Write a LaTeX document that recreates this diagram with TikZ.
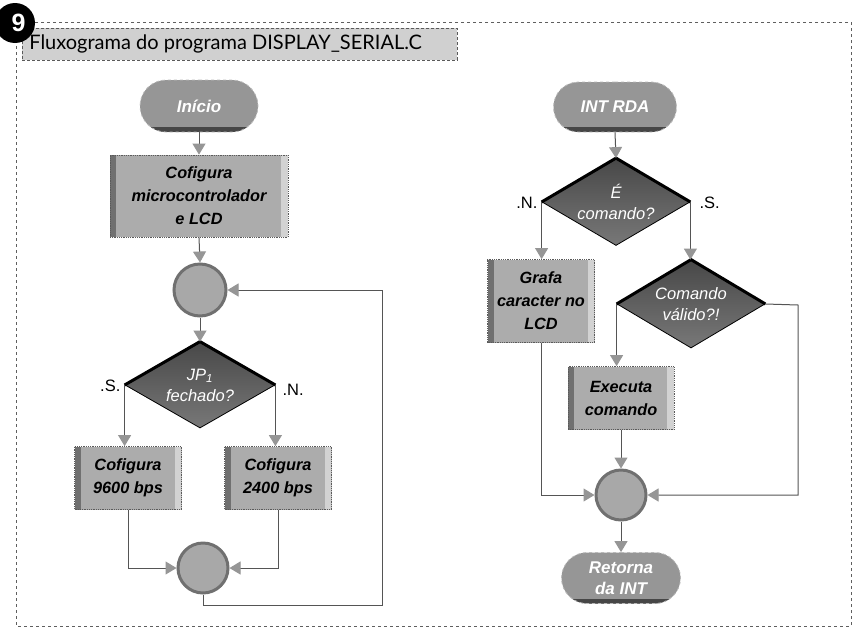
\documentclass[tikz,border=0pt]{standalone}
\usepackage{fontspec}
\setmainfont{Liberation Sans}
\newfontfamily\titlefont{Lato}
\usetikzlibrary{shapes.geometric,shapes.misc,arrows.meta,calc}
\definecolor{framecol}{RGB}{95,95,95}
\definecolor{titlefill}{RGB}{208,208,208}
\definecolor{boxfill}{RGB}{172,172,172}
\definecolor{boxdark}{RGB}{112,112,112}
\definecolor{boxlight}{RGB}{210,210,210}
\definecolor{boxedge}{RGB}{90,90,90}
\definecolor{termfill}{RGB}{150,150,150}
\definecolor{termdark}{RGB}{70,70,70}
\definecolor{termedge}{RGB}{185,185,185}
\definecolor{diatop}{RGB}{72,72,72}
\definecolor{diabot}{RGB}{120,120,120}
\definecolor{circfill}{RGB}{168,168,168}
\definecolor{circedge}{RGB}{112,112,112}
\definecolor{tipcol}{RGB}{150,150,150}
\definecolor{linecol}{RGB}{85,85,85}
\tikzset{
  conn/.style={draw=linecol, line width=1pt},
  arr/.style={conn, -{Triangle[width=13pt,length=11pt,color=tipcol,fill=tipcol]}},
  procbox/.style={rectangle, fill=boxfill, draw=boxedge, densely dotted, line width=0.8pt,
    font=\bfseries\itshape\fontsize{16.3}{23}\selectfont, align=center, inner sep=0pt,
    path picture={
      \fill[boxdark] (path picture bounding box.south west) rectangle ([xshift=6pt]path picture bounding box.north west);
      \fill[boxlight] ([xshift=-7pt]path picture bounding box.south east) rectangle (path picture bounding box.north east);
    }},
  termbox/.style={rounded rectangle, fill=termfill, draw=termedge, dashed, line width=0.8pt,
    text=white, font=\bfseries\itshape\fontsize{17}{21}\selectfont, align=center, inner sep=0pt,
    path picture={
      \fill[termdark] ([yshift=5pt]path picture bounding box.south west) rectangle (path picture bounding box.south east);
    }},
  decbox/.style={diamond, top color=diatop, bottom color=diabot, draw=black, line width=0.8pt,
    text=white, font=\itshape\fontsize{16.5}{21}\selectfont, align=center, inner sep=0pt,
    shape aspect=1.72, minimum width=148, minimum height=87},
  decedge/.style={draw=black, line width=3pt, line join=miter},
  joint/.style={circle, fill=circfill, draw=circedge, line width=3pt, minimum size=50, inner sep=0pt},
  branchlbl/.style={font=\fontsize{16.5}{19}\selectfont, text=black, inner sep=1pt},
  titlebox/.style={rectangle, fill=titlefill, draw=boxedge, densely dashed, line width=0.7pt,
    font=\titlefont\fontsize{20}{24}\selectfont, inner xsep=7pt, inner ysep=0pt,
    minimum height=32, anchor=north west},
}
\begin{document}
\begin{tikzpicture}[x=1pt,y=-1pt]
\useasboundingbox (0,0) rectangle (861,640);
\fill[white] (0,0) rectangle (861,640);
% frame
\draw[framecol, dashed, line width=1pt] (16,22) rectangle (851,626);
% title
\node[titlebox] (title) at (22,28) {\makebox[421pt][l]{Fluxograma do programa DISPLAY\_SERIAL.C}};
\node[circle, fill=black, minimum size=40, inner sep=0pt, text=white,
      font=\bfseries\fontsize{25}{25}\selectfont] (num) at (15,23) {\hspace{7pt}9};

% left flowchart
\node[termbox, minimum width=118, minimum height=52] (inicio) at (199,106) {Início};
\node[procbox, minimum width=178, minimum height=82] (cfg) at (199,196) {Cofigura\\microcontrolador\\e LCD};
\node[joint, minimum size=52] (c1) at (200,290) {};
\node[decbox, minimum width=150, minimum height=86] (jp) at (200,385) {JP\textsubscript{1}\\fechado?};
\draw[decedge] (jp.west) -- (jp.north) -- (jp.east);
\node[procbox, minimum width=107, minimum height=63] (b96) at (128,478) {Cofigura\\9600 bps};
\node[procbox, minimum width=107, minimum height=63] (b24) at (278,478) {Cofigura\\2400 bps};
\node[joint] (c2) at (203,568) {};
\node[branchlbl, anchor=south east] (ls) at ([xshift=-3pt,yshift=-8pt]jp.west) {.S.};
\node[branchlbl, anchor=north west] (ln) at ([xshift=6pt,yshift=2pt]jp.east) {.N.};
\coordinate (lp1) at (382,605);

\draw[arr] (inicio.south) -- (cfg.north);
\draw[arr] (cfg.south) -- (c1.north);
\draw[arr] (c1.south) -- (jp.north);
\draw[arr] (jp.west) -- (jp.west |- b96.north);
\draw[arr] (jp.east) -- (jp.east |- b24.north);
\draw[arr] (b96.south) |- (c2.west);
\draw[arr] (b24.south) |- (c2.east);
\draw[arr] (c2.south) |- (lp1) |- (c1.east);

% right flowchart
\node[termbox, minimum width=123, minimum height=50] (int) at (615,107) {INT RDA};
\node[decbox] (ec) at (616,202) {É\\comando?};
\draw[decedge] (ec.west) -- (ec.north) -- (ec.east);
\node[procbox, minimum width=107, minimum height=83] (grafa) at (541,301) {Grafa\\caracter no\\LCD};
\node[decbox, minimum height=88] (cv) at (691,304) {Comando\\válido?!};
\draw[decedge] (cv.west) -- (cv.north) -- (cv.east);
\node[procbox, minimum width=106, minimum height=63] (exe) at (621,398) {Executa\\comando};
\node[joint] (c3) at (621,495) {};
\node[termbox, minimum width=119, minimum height=51] (ret) at (621,578) {Retorna\\da INT};
\node[branchlbl, anchor=south east] (rn) at ([xshift=-3pt,yshift=-8pt]ec.west) {.N.};
\node[branchlbl, anchor=south west] (rs) at ([xshift=8pt,yshift=-8pt]ec.east) {.S.};
\coordinate (rr) at (798,305);

\draw[arr] (int.south) -- (ec.north);
\draw[arr] (ec.west) -- (ec.west |- grafa.north);
\draw[arr] (ec.east) -- (ec.east |- cv.north);
\draw[arr] (cv.west) -- (cv.west |- exe.north);
\draw[arr] (exe.south) -- (c3.north);
\draw[arr] (grafa.south) |- (c3.west);
\draw[arr] (cv.east) -- (rr) |- (c3.east);
\draw[arr] (c3.south) -- (ret.north);
\end{tikzpicture}
\end{document}
